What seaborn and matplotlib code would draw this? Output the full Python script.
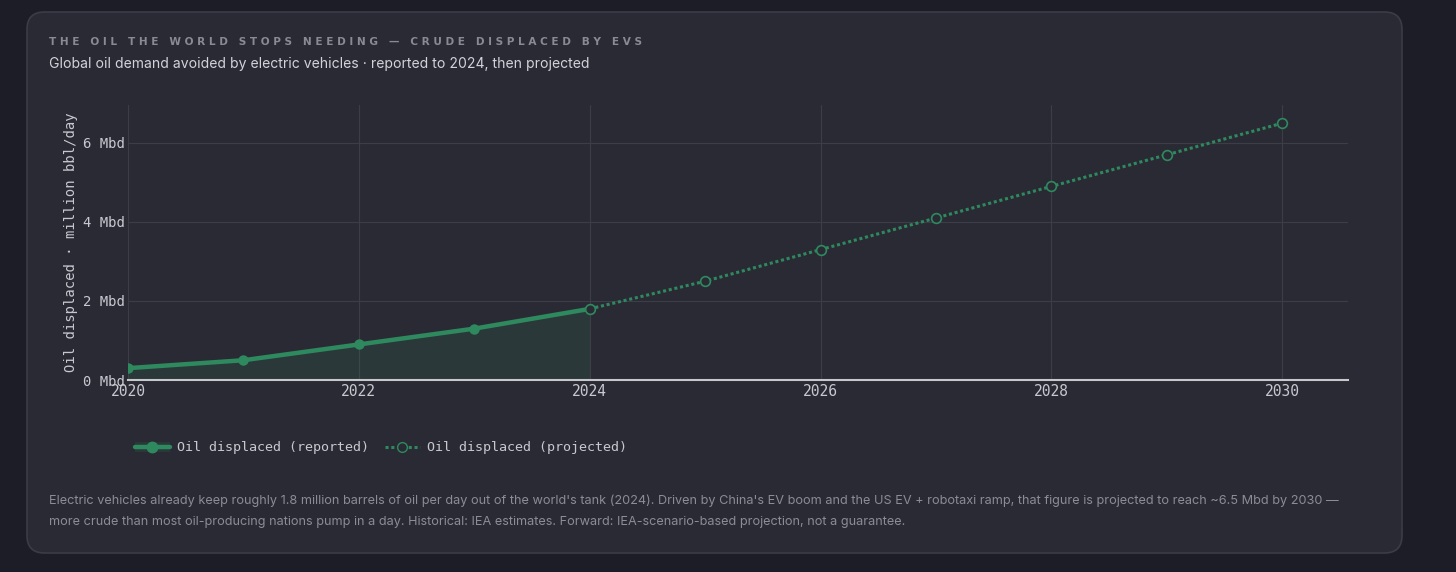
import numpy as np
import pandas as pd
import seaborn as sns
import matplotlib.pyplot as plt
from matplotlib.patches import FancyBboxPatch, Patch
from matplotlib.lines import Line2D

sns.set_style("dark")

# data
years_reported = [2020, 2021, 2022, 2023, 2024]
oil_reported = [0.3, 0.5, 0.9, 1.3, 1.8]
years_projected = [2024, 2025, 2026, 2027, 2028, 2029, 2030]
oil_projected = [1.8, 2.5, 3.3, 4.1, 4.9, 5.7, 6.5]
x_ticks = [2020, 2022, 2024, 2026, 2028, 2030]
y_ticks = [0, 2, 4, 6]
y_tick_labels = ["0 Mbd", "2 Mbd", "4 Mbd", "6 Mbd"]

reported = pd.DataFrame({"year": years_reported, "oil": oil_reported})
projected = pd.DataFrame({"year": years_projected, "oil": oil_projected})

BG = "#1d1d27"
CARD = "#2a2a34"
GREEN = "#2e8a5e"
GRID = "#3d3d48"
TICK = "#c8c8d0"
MONO = "DejaVu Sans Mono"

fig = plt.figure(figsize=(14.56, 5.72), dpi=100, facecolor=BG)

# card behind everything
card = FancyBboxPatch((27 / 1456, 19 / 572), 1375 / 1456, 541 / 572,
                      boxstyle="round,pad=0,rounding_size=0.012",
                      transform=fig.transFigure, facecolor=CARD,
                      edgecolor="#3c3c48", linewidth=1.2, mutation_aspect=1456 / 572,
                      zorder=-5)
fig.patches.append(card)

ax = fig.add_axes([128 / 1456, (572 - 380) / 572, 1220 / 1456, 275 / 572])
ax.patch.set_alpha(0)

ax.fill_between(reported["year"], reported["oil"], 0, color=GREEN, alpha=0.15, linewidth=0)
sns.lineplot(data=reported, x="year", y="oil", ax=ax, color=GREEN, linewidth=3.2,
             marker="o", markersize=7.5, markeredgewidth=0)
sns.lineplot(data=projected, x="year", y="oil", ax=ax, color=GREEN, linewidth=2.2,
             linestyle=(0, (1, 0.9)), marker="o", markersize=7, markerfacecolor=CARD,
             markeredgecolor=GREEN, markeredgewidth=1.2)

ax.set_xlim(2020, 2030.57)
ax.set_ylim(0, 6.96)
ax.set_xticks(x_ticks)
ax.set_xticklabels([str(y) for y in x_ticks])
ax.set_yticks(y_ticks)
ax.set_yticklabels(y_tick_labels)
ax.grid(True, color=GRID, linewidth=0.8)
ax.tick_params(axis="both", length=0, colors=TICK, labelsize=10, pad=2)
ax.tick_params(axis="x", labelsize=10.5, pad=3)
for lab in ax.get_xticklabels() + ax.get_yticklabels():
    lab.set_fontfamily(MONO)
for side in ["left", "right", "top"]:
    ax.spines[side].set_visible(False)
ax.spines["bottom"].set_color("#c8c8cc")
ax.spines["bottom"].set_linewidth(1.5)
ax.set_xlabel("")
ax.set_ylabel("Oil displaced · million bbl/day", family=MONO, fontsize=10,
              color=TICK, labelpad=4)

# header
fig.text(49 / 1456, 1 - 42 / 572, "T H E   O I L   T H E   W O R L D   S T O P S   N E E D I N G   —   C R U D E   D I S P L A C E D   B Y   E V S",
         family="DejaVu Sans", fontweight="bold", fontsize=7.6, color="#8a8a95", va="center")
fig.text(49 / 1456, 1 - 64 / 572,
         "Global oil demand avoided by electric vehicles · reported to 2024, then projected",
         family="Inter", fontsize=10.1, color="#d2d2da", va="center")

# legend
h_rep = (Patch(facecolor=GREEN, alpha=0.15, edgecolor="none"),
         Line2D([], [], color=GREEN, linewidth=3.2, marker="o", markersize=7.5))
h_proj = Line2D([], [], color=GREEN, linewidth=2.2, linestyle=(0, (1, 0.9)),
                marker="o", markersize=7, markerfacecolor=CARD, markeredgecolor=GREEN)
leg = fig.legend([h_rep, h_proj], ["Oil displaced (reported)", "Oil displaced (projected)"],
                 loc="center left", bbox_to_anchor=(123 / 1456, 1 - 448 / 572), ncol=2,
                 frameon=False, handlelength=2.6, handletextpad=0.55, columnspacing=1.2,
                 prop={"family": MONO, "size": 9.6})
for t in leg.get_texts():
    t.set_color(TICK)

# footnote
fig.text(49 / 1456, 1 - 501 / 572,
         "Electric vehicles already keep roughly 1.8 million barrels of oil per day out of the world's tank (2024). "
         "Driven by China's EV boom and the US EV + robotaxi ramp, that figure is projected to reach ~6.5 Mbd by 2030 —",
         family="Inter", fontsize=9.15, color="#8c8c96", va="center")
fig.text(49 / 1456, 1 - 522 / 572,
         "more crude than most oil-producing nations pump in a day. Historical: IEA estimates. "
         "Forward: IEA-scenario-based projection, not a guarantee.",
         family="Inter", fontsize=9.15, color="#8c8c96", va="center")

fig.savefig("out.png", dpi=100, facecolor=BG)
